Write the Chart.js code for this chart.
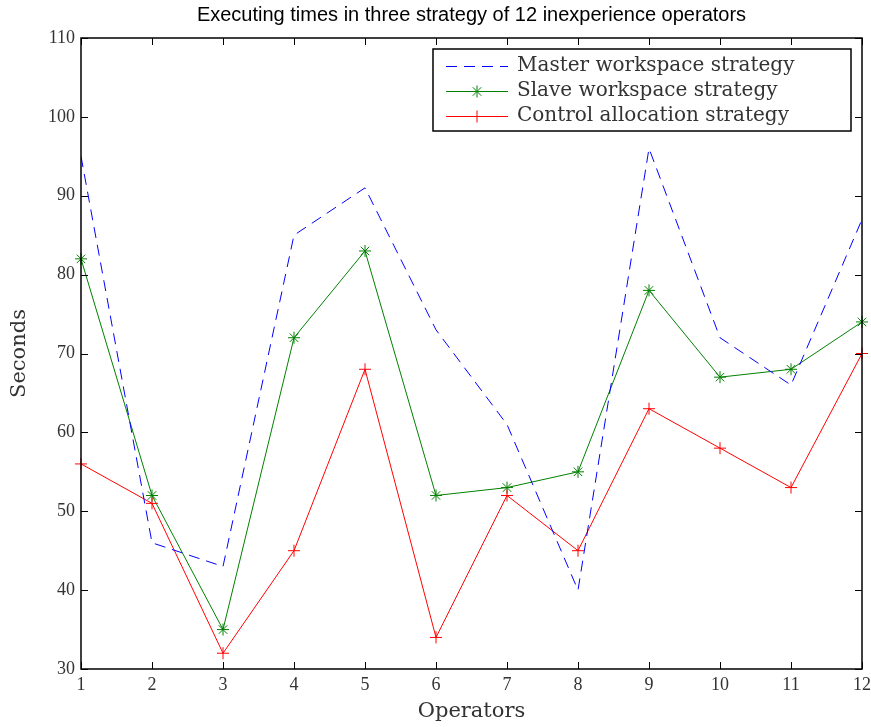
<!DOCTYPE html>
<html>
<head>
<meta charset="utf-8">
<script src="https://cdn.jsdelivr.net/npm/chart.js@4"></script>
<style>
  html, body { margin: 0; padding: 0; background: #fff; }
  #wrap { width: 871px; height: 727px; }
</style>
</head>
<body>
<div id="wrap"><canvas id="timesChart" width="871" height="727"></canvas></div>
<script>
const operators = [1, 2, 3, 4, 5, 6, 7, 8, 9, 10, 11, 12];
const masterTimes = [95, 46, 43, 85, 91, 73, 61, 40, 96, 72, 66, 87];
const slaveTimes = [82, 52, 35, 72, 83, 52, 53, 55, 78, 67, 68, 74];
const controlTimes = [56, 51, 32, 45, 68, 34, 52, 45, 63, 58, 53, 70];
const yTicks = [30, 40, 50, 60, 70, 80, 90, 100, 110];

const seriesNames = [
  "Master workspace strategy",
  "Slave workspace strategy",
  "Control allocation strategy",
];

const tickFont = "'Liberation Serif', 'DejaVu Serif', serif";
const labelFont = "'DejaVu Serif', 'Liberation Serif', serif";
const canvas = document.getElementById("timesChart");

function toPoints(values) {
  return operators.map((op, i) => ({ x: op, y: values[i] }));
}

function drawMarker(ctx, style, x, y, r, color) {
  ctx.save();
  ctx.strokeStyle = color;
  ctx.lineWidth = 1;
  ctx.setLineDash([]);
  ctx.beginPath();
  if (style === "star") {
    for (let k = 0; k < 4; k++) {
      const a = (k * Math.PI) / 4;
      ctx.moveTo(x - r * Math.cos(a), y - r * Math.sin(a));
      ctx.lineTo(x + r * Math.cos(a), y + r * Math.sin(a));
    }
  } else if (style === "cross") {
    ctx.moveTo(x - r, y);
    ctx.lineTo(x + r, y);
    ctx.moveTo(x, y - r);
    ctx.lineTo(x, y + r);
  }
  ctx.stroke();
  ctx.restore();
}

// frame round the plot, with inward ticks on all four sides
const framePlugin = {
  id: "frame",
  afterDatasetsDraw(chart) {
    const { ctx, chartArea: a, scales } = chart;
    const len = 7;
    ctx.save();
    ctx.strokeStyle = "#000";
    ctx.lineWidth = 1;
    ctx.beginPath();
    operators.forEach((op) => {
      const px = Math.round(scales.x.getPixelForValue(op)) + 0.5;
      ctx.moveTo(px, a.bottom);
      ctx.lineTo(px, a.bottom - len);
      ctx.moveTo(px, a.top);
      ctx.lineTo(px, a.top + len);
    });
    yTicks.forEach((v) => {
      const py = Math.round(scales.y.getPixelForValue(v)) + 0.5;
      ctx.moveTo(a.left, py);
      ctx.lineTo(a.left + len, py);
      ctx.moveTo(a.right, py);
      ctx.lineTo(a.right - len, py);
    });
    ctx.stroke();
    ctx.lineWidth = 1.5;
    ctx.strokeRect(a.left, a.top, a.right - a.left, a.bottom - a.top);
    ctx.restore();
  },
};

// legend box in the top right corner of the plot
const boxLegendPlugin = {
  id: "boxLegend",
  afterDraw(chart) {
    const { ctx, chartArea: a } = chart;
    const boxW = 418;
    const boxH = 82;
    const bx = a.right - 11 - boxW;
    const by = a.top + 11;
    ctx.save();
    ctx.fillStyle = "#fff";
    ctx.fillRect(bx, by, boxW, boxH);
    ctx.strokeStyle = "#000";
    ctx.lineWidth = 1.5;
    ctx.strokeRect(bx, by, boxW, boxH);

    ctx.font = "20px " + labelFont;
    ctx.textBaseline = "middle";
    chart.data.datasets.forEach((ds, i) => {
      const y = by + 17 + i * 25;
      const x0 = bx + 13;
      const x1 = bx + 75;
      ctx.strokeStyle = ds.borderColor;
      ctx.lineWidth = 1;
      ctx.setLineDash(ds.borderDash || []);
      ctx.beginPath();
      ctx.moveTo(x0, y + 0.5);
      ctx.lineTo(x1, y + 0.5);
      ctx.stroke();
      ctx.setLineDash([]);
      if (ds.pointRadius > 0) {
        drawMarker(ctx, ds.pointStyle, (x0 + x1) / 2, y + 0.5, 6, ds.borderColor);
      }
      ctx.fillStyle = "#333";
      ctx.fillText(ds.label, bx + 84, y);
    });
    ctx.restore();
  },
};

// draw the asterisk and plus markers as plain strokes
const markerPlugin = {
  id: "markers",
  afterDatasetsDraw(chart) {
    const { ctx } = chart;
    chart.data.datasets.forEach((ds, i) => {
      if (!ds.pointRadius) return;
      const meta = chart.getDatasetMeta(i);
      meta.data.forEach((pt) => {
        drawMarker(ctx, ds.pointStyle, pt.x, pt.y, 6, ds.borderColor);
      });
    });
  },
};

new Chart(canvas, {
  type: "line",
  data: {
    datasets: [
      {
        label: seriesNames[0],
        data: toPoints(masterTimes),
        borderColor: "#0000ff",
        borderWidth: 1,
        borderDash: [11, 7],
        pointRadius: 0,
        tension: 0,
      },
      {
        label: seriesNames[1],
        data: toPoints(slaveTimes),
        borderColor: "#008000",
        borderWidth: 1,
        pointStyle: "star",
        pointRadius: 6,
        pointHoverRadius: 6,
        pointBorderColor: "rgba(0,0,0,0)",
        pointBackgroundColor: "rgba(0,0,0,0)",
        tension: 0,
      },
      {
        label: seriesNames[2],
        data: toPoints(controlTimes),
        borderColor: "#ff0000",
        borderWidth: 1,
        pointStyle: "cross",
        pointRadius: 6,
        pointHoverRadius: 6,
        pointBorderColor: "rgba(0,0,0,0)",
        pointBackgroundColor: "rgba(0,0,0,0)",
        tension: 0,
      },
    ],
  },
  options: {
    responsive: false,
    animation: false,
    events: [],
    layout: {
      padding: { left: 0, right: 9, top: 0, bottom: 0 },
    },
    plugins: {
      legend: { display: false },
      tooltip: { enabled: false },
      title: {
        display: true,
        fullSize: false,
        text: "Executing times in three strategy of 12 inexperience operators",
        color: "#000",
        font: { family: "'Liberation Sans', Arial, sans-serif", size: 20, weight: "normal", lineHeight: 1.2 },
        padding: { top: 3, bottom: 11 },
      },
    },
    scales: {
      x: {
        type: "linear",
        min: 1,
        max: 12,
        afterBuildTicks(scale) {
          scale.ticks = operators.map((v) => ({ value: v }));
        },
        afterFit(scale) {
          scale.height = 58;
          scale.paddingLeft = 0;
          scale.paddingRight = 0;
        },
        grid: { display: false, drawTicks: false },
        border: { display: false },
        ticks: {
          color: "#333",
          font: { family: tickFont, size: 18 },
          padding: 5,
          maxRotation: 0,
          autoSkip: false,
        },
        title: {
          display: true,
          text: "Operators",
          color: "#333",
          font: { family: labelFont, size: 21 },
          padding: { top: 0, bottom: 3 },
        },
      },
      y: {
        type: "linear",
        min: 30,
        max: 110,
        afterBuildTicks(scale) {
          scale.ticks = yTicks.map((v) => ({ value: v }));
        },
        afterFit(scale) {
          scale.width = 81;
          scale.paddingTop = 0;
          scale.paddingBottom = 0;
        },
        grid: { display: false, drawTicks: false },
        border: { display: false },
        ticks: {
          color: "#333",
          font: { family: tickFont, size: 18 },
          padding: 6,
        },
        title: {
          display: true,
          text: "Seconds",
          color: "#333",
          font: { family: labelFont, size: 21 },
          padding: { top: 7, bottom: 0 },
        },
      },
    },
  },
  plugins: [markerPlugin, framePlugin, boxLegendPlugin],
});
</script>
</body>
</html>
